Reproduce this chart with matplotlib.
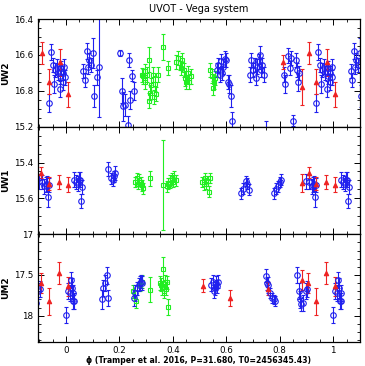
import numpy as np
import matplotlib
matplotlib.use("Agg")
from matplotlib import pyplot as plt
from matplotlib.ticker import MultipleLocator

XMIN, XMAX = -0.105, 1.1

# ---- UW2 ----
uw2_blue_ph = [0.935, 0.944, 0.952, 0.956, 0.959, 0.966, 0.971, 0.978, 0.979, 0.981, 0.987, 0.989, 0.994, 0.997,
               0.065, 0.072, 0.079, 0.083, 0.087, 0.092, 0.100, 0.104, 0.115, 0.125,
               0.2025, 0.21, 0.215, 0.222, 0.231, 0.235, 0.241, 0.246, 0.254,
               0.565, 0.569, 0.575, 0.581, 0.585, 0.587, 0.594, 0.600, 0.606, 0.610, 0.616, 0.621,
               0.6875, 0.694, 0.700, 0.706, 0.710, 0.715, 0.721, 0.725, 0.729, 0.735, 0.740, 0.7475,
               0.815, 0.821, 0.831, 0.837, 0.844, 0.850, 0.862, 0.865, 0.868, 0.871]
uw2_blue_mag = [16.87, 16.585, 16.655, 16.76, 16.684, 16.665, 16.70, 16.79, 16.72, 16.674, 16.70, 16.75, 16.665, 16.726,
                16.69, 16.74, 16.58, 16.665, 16.63, 16.655, 16.59, 16.83, 16.726, 16.665,
                16.59, 16.80, 16.887, 16.88, 16.99, 16.63, 16.85, 16.716, 16.80,
                16.684, 16.655, 16.71, 16.636, 16.70, 16.665, 16.623, 16.627, 16.75, 16.76, 16.83, 16.97,
                16.71, 16.627, 16.684, 16.655, 16.73, 16.665, 16.636, 16.60, 16.684, 16.655, 16.71, 17.02,
                16.71, 16.76, 16.604, 16.674, 16.617, 16.966, 16.627, 16.684, 16.75, 16.70]
uw2_blue_err = [0.05, 0.045, 0.04, 0.05, 0.04, 0.04, 0.04, 0.045, 0.04, 0.04, 0.04, 0.045, 0.04, 0.04,
                0.04, 0.04, 0.045, 0.04, 0.04, 0.04, 0.085, 0.06, 0.04, 0.28,
                0.015, 0.07, 0.08, 0.06, 0.05, 0.04, 0.05, 0.03, 0.05,
                0.04, 0.04, 0.04, 0.04, 0.04, 0.04, 0.045, 0.04, 0.04, 0.05, 0.06, 0.05,
                0.04, 0.04, 0.04, 0.04, 0.04, 0.04, 0.04, 0.05, 0.04, 0.04, 0.04, 0.05,
                0.04, 0.05, 0.04, 0.04, 0.04, 0.03, 0.04, 0.04, 0.05, 0.04]
uw2_red_ph = [0.006, 0.812, 0.885, 0.91, 0.935, 0.977]
uw2_red_mag = [16.82, 16.64, 16.78, 16.59, 16.75, 16.64]
uw2_red_err = [0.07, 0.04, 0.10, 0.06, 0.07, 0.075]
uw2_green_ph = [0.2835, 0.29, 0.294, 0.297, 0.302, 0.309, 0.312, 0.315, 0.319, 0.325, 0.329, 0.334, 0.337, 0.344,
                0.362, 0.381, 0.4125, 0.419, 0.425, 0.429, 0.435, 0.44, 0.446, 0.45, 0.456, 0.462, 0.469,
                0.5375, 0.5475, 0.55, 0.5525, 0.556]
uw2_green_mag = [16.712, 16.72, 16.69, 16.75, 16.71, 16.855, 16.627, 16.81, 16.77, 16.71, 16.836, 16.76, 16.817, 16.71,
                 16.556, 16.674, 16.64, 16.617, 16.646, 16.674, 16.627, 16.684, 16.731, 16.75, 16.70, 16.75, 16.72,
                 16.684, 16.718, 16.783, 16.75, 16.73]
uw2_green_err = [0.04, 0.04, 0.04, 0.04, 0.04, 0.04, 0.07, 0.04, 0.04, 0.04, 0.04, 0.04, 0.04, 0.04,
                 0.07, 0.04, 0.04, 0.04, 0.04, 0.04, 0.04, 0.04, 0.04, 0.04, 0.04, 0.04, 0.04,
                 0.04, 0.04, 0.04, 0.04, 0.04]

# ---- UW1 ----
uw1_blue_ph = [0.900, 0.910, 0.919, 0.925, 0.929, 0.932, 0.935,
               0.031, 0.0375, 0.044, 0.047, 0.0525, 0.055, 0.060,
               0.159, 0.169, 0.175, 0.181, 0.184,
               0.656, 0.662, 0.672, 0.677, 0.685,
               0.778, 0.7875, 0.794, 0.800, 0.806]
uw1_blue_mag = [15.505, 15.509, 15.533, 15.523, 15.518, 15.59, 15.527,
                15.495, 15.509, 15.518, 15.495, 15.495, 15.613, 15.537,
                15.438, 15.489, 15.499, 15.476, 15.457,
                15.571, 15.546, 15.503, 15.518, 15.552,
                15.571, 15.546, 15.533, 15.509, 15.495]
uw1_blue_err = [0.04, 0.04, 0.04, 0.04, 0.04, 0.06, 0.04,
                0.04, 0.04, 0.04, 0.04, 0.04, 0.04, 0.04,
                0.04, 0.03, 0.03, 0.03, 0.04,
                0.03, 0.03, 0.03, 0.03, 0.03,
                0.03, 0.03, 0.03, 0.03, 0.03]
uw1_red_ph = [0.006, 0.885, 0.908, 0.935, 0.975]
uw1_red_mag = [15.523, 15.514, 15.457, 15.518, 15.508]
uw1_red_err = [0.04, 0.05, 0.03, 0.035, 0.04]
uw1_green_ph = [0.26, 0.265, 0.269, 0.275, 0.279, 0.284, 0.2875, 0.3125,
                0.362, 0.379, 0.381, 0.3875, 0.391, 0.396, 0.40, 0.406, 0.41,
                0.51, 0.515, 0.521, 0.525, 0.531, 0.535, 0.5375]
uw1_green_mag = [15.509, 15.489, 15.518, 15.495, 15.509, 15.527, 15.543, 15.489,
                 15.527, 15.533, 15.518, 15.499, 15.514, 15.489, 15.509, 15.48, 15.499,
                 15.509, 15.522, 15.489, 15.518, 15.503, 15.562, 15.486]
uw1_green_err = [0.03, 0.03, 0.03, 0.03, 0.03, 0.03, 0.03, 0.04,
                 0.25, 0.03, 0.03, 0.03, 0.03, 0.03, 0.03, 0.03, 0.03,
                 0.03, 0.03, 0.03, 0.03, 0.03, 0.03, 0.03]

# ---- UM2 ----
um2_blue_ph = [0.866, 0.872, 0.8775, 0.881, 0.8875, 0.897, 0.902,
               0.000, 0.006, 0.015, 0.019, 0.0225, 0.025, 0.0275, 0.031,
               0.134, 0.140, 0.1475, 0.152, 0.156,
               0.254, 0.260, 0.265, 0.272, 0.2775, 0.281, 0.285,
               0.544, 0.550, 0.5525, 0.556, 0.560, 0.565, 0.569,
               0.747, 0.752, 0.757, 0.763, 0.770, 0.777, 0.783]
um2_blue_mag = [17.497, 17.70, 17.80, 17.86, 17.84, 17.70, 17.67,
                17.988, 17.70, 17.72, 17.56, 17.66, 17.82, 17.72, 17.82,
                17.80, 17.66, 17.598, 17.505, 17.78,
                17.78, 17.72, 17.66, 17.62, 17.598, 17.58, 17.598,
                17.62, 17.58, 17.70, 17.66, 17.598, 17.64, 17.58,
                17.51, 17.60, 17.62, 17.72, 17.78, 17.80, 17.82]
um2_blue_err = [0.10, 0.10, 0.10, 0.08, 0.10, 0.10, 0.10,
                0.10, 0.10, 0.10, 0.10, 0.12, 0.10, 0.10, 0.10,
                0.12, 0.10, 0.10, 0.10, 0.10,
                0.10, 0.10, 0.08, 0.08, 0.08, 0.08, 0.08,
                0.08, 0.08, 0.08, 0.08, 0.08, 0.08, 0.08,
                0.08, 0.08, 0.10, 0.06, 0.06, 0.06, 0.06]
um2_red_ph = [0.006, 0.5125, 0.6125, 0.756, 0.885, 0.906, 0.935, 0.975]
um2_red_mag = [17.64, 17.63, 17.78, 17.67, 17.56, 17.598, 17.824, 17.475]
um2_red_err = [0.12, 0.08, 0.10, 0.08, 0.12, 0.12, 0.17, 0.13]
um2_green_ph = [0.2525, 0.2625, 0.2775, 0.285, 0.3125, 0.35, 0.356, 0.36, 0.3625, 0.366, 0.371, 0.375, 0.379, 0.381]
um2_green_mag = [17.70, 17.82, 17.62, 17.58, 17.68, 17.598, 17.62, 17.66, 17.426, 17.70, 17.58, 17.67, 17.59, 17.89]
um2_green_err = [0.08, 0.08, 0.08, 0.08, 0.15, 0.08, 0.08, 0.08, 0.15, 0.08, 0.08, 0.08, 0.08, 0.10]

BLUE = '#2020ee'
RED = '#ee2222'
GREEN = '#22ee22'


def wrap(ph, mag, err):
    # repeat the folded points one cycle each side, keep what falls in range
    ph = np.asarray(ph)
    x = np.concatenate([ph - 1, ph, ph + 1])
    y = np.tile(np.asarray(mag), 3)
    e = np.tile(np.asarray(err), 3)
    m = (x >= XMIN - 0.01) & (x <= XMAX + 0.01)
    return x[m], y[m], e[m]


def draw(ax, ph, mag, err, color, marker, filled, ms):
    x, y, e = wrap(ph, mag, err)
    ax.errorbar(x, y, yerr=e, fmt=marker, color=color, ecolor=color,
                mfc=color if filled else 'none', mec=color, ms=ms, mew=0.8,
                elinewidth=0.8, capsize=1.5, capthick=0.8)


fig, axes = plt.subplots(3, 1, sharex=True, figsize=(3.65, 3.66), dpi=100)
fig.subplots_adjust(left=0.104, right=0.986, top=0.948, bottom=0.066, hspace=0)

panels = [
    (axes[0], 'UW2', (uw2_blue_ph, uw2_blue_mag, uw2_blue_err), (uw2_green_ph, uw2_green_mag, uw2_green_err),
     (uw2_red_ph, uw2_red_mag, uw2_red_err), (17.0, 16.4), [16.4, 16.6, 16.8], ['16.4', '16.6', '16.8'], 0.05),
    (axes[1], 'UW1', (uw1_blue_ph, uw1_blue_mag, uw1_blue_err), (uw1_green_ph, uw1_green_mag, uw1_green_err),
     (uw1_red_ph, uw1_red_mag, uw1_red_err), (15.8, 15.2), [15.2, 15.4, 15.6], ['15.2', '15.4', '15.6'], 0.05),
    (axes[2], 'UM2', (um2_blue_ph, um2_blue_mag, um2_blue_err), (um2_green_ph, um2_green_mag, um2_green_err),
     (um2_red_ph, um2_red_mag, um2_red_err), (18.32, 17.0), [17.0, 17.5, 18.0], ['17', '17.5', '18'], 0.1),
]

for ax, name, blue, green, red, ylim, yt, ytl, ymin in panels:
    draw(ax, *green, GREEN, 's', False, 3.3)
    draw(ax, *blue, BLUE, 'o', False, 4)
    draw(ax, *red, RED, '^', True, 3.2)
    ax.set_ylim(*ylim)
    ax.set_yticks(yt)
    ax.set_yticklabels(ytl)
    ax.yaxis.set_minor_locator(MultipleLocator(ymin))
    ax.set_ylabel(name, fontsize=6.5, fontweight='bold')
    ax.yaxis.set_label_coords(-0.085, 0.5)
    ax.tick_params(which='both', direction='in', top=True, right=True, labelsize=6.3)
    ax.tick_params(which='major', length=4, width=0.7)
    ax.tick_params(which='minor', length=2, width=0.6)
    for s in ax.spines.values():
        s.set_linewidth(0.9)

axes[2].set_xlim(XMIN, XMAX)
axes[2].set_xticks([0, 0.2, 0.4, 0.6, 0.8, 1.0])
axes[2].set_xticklabels(['0', '0.2', '0.4', '0.6', '0.8', '1'])
axes[2].xaxis.set_minor_locator(MultipleLocator(0.05))
axes[2].tick_params(axis='x', pad=3)
axes[2].set_xlabel('ϕ (Tramper et al. 2016, P=31.680, T0=2456345.43)', fontsize=5.6, fontweight='bold', labelpad=0.5)
axes[0].set_title('UVOT - Vega system', fontsize=7, pad=5)

fig.savefig('out.png', dpi=100)
